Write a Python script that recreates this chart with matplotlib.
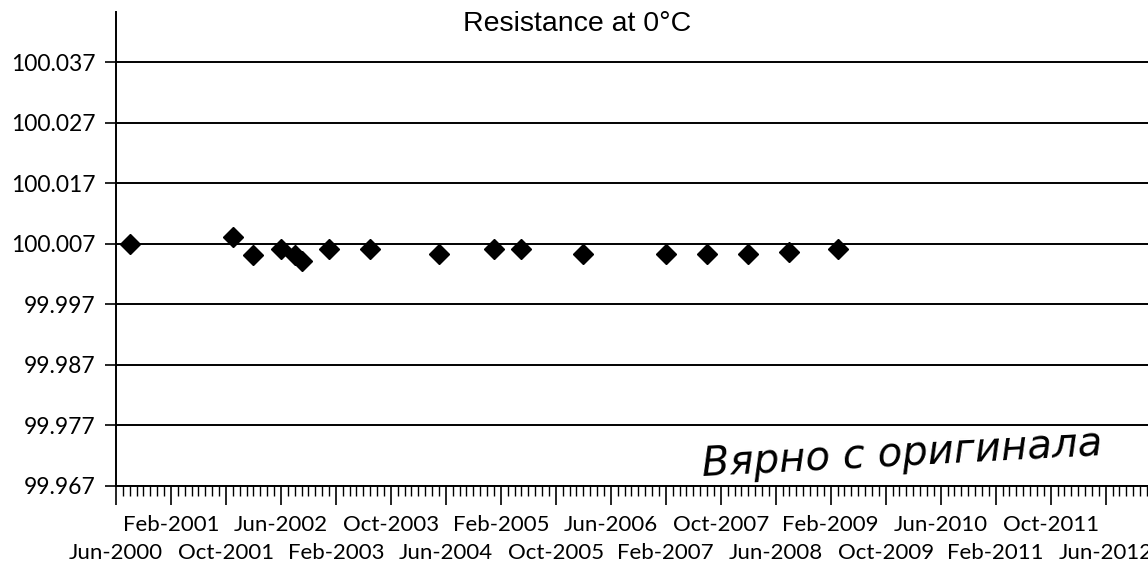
import matplotlib.pyplot as plt
from matplotlib.ticker import FixedLocator, MultipleLocator, NullFormatter

# measurement dates (year-month) and resistance values at 0 C
dates = ["2000-08", "2001-11", "2002-02", "2002-06", "2002-08", "2002-09",
         "2003-01", "2003-07", "2004-05", "2005-01", "2005-05", "2006-02",
         "2007-02", "2007-08", "2008-02", "2008-08", "2009-03"]
resistance = [100.0070, 100.0081, 100.0052, 100.0061, 100.0052, 100.0041,
              100.0061, 100.0061, 100.0053, 100.0061, 100.0061, 100.0053,
              100.0053, 100.0053, 100.0053, 100.0056, 100.0061]

y_ticks = [99.967, 99.977, 99.987, 99.997, 100.007, 100.017, 100.027, 100.037]
month_names = ["Jan", "Feb", "Mar", "Apr", "May", "Jun",
               "Jul", "Aug", "Sep", "Oct", "Nov", "Dec"]

start_year, start_month = 2000, 6


def month_index(s):
    y, m = s.split("-")
    return (int(y) - start_year) * 12 + int(m) - start_month


def month_label(k):
    total = start_month - 1 + k
    return "%s-%d" % (month_names[total % 12], start_year + total // 12)


x = [month_index(d) for d in dates]

plt.rcParams['font.family'] = ['Lato', 'DejaVu Sans']

fig = plt.figure(figsize=(11.48, 5.67), dpi=100)
ax = fig.add_axes([0.101, 0.1429, 0.910, 0.836])

for v in y_ticks:
    ax.axhline(v, color='black', lw=1.4, zorder=1)

ax.plot(x, resistance, linestyle='none', marker='D', markersize=10.5,
        color='black', zorder=3)

ax.set_xlim(0, 152)
ax.set_ylim(99.967, 100.0453)
ax.set_yticks(y_ticks)
ax.set_yticklabels(["%.3f" % v for v in y_ticks])

# date axis: major tick every 8 months, labels staggered on two rows
major = list(range(0, 152, 8))
ax.xaxis.set_major_locator(FixedLocator(major))
ax.xaxis.set_major_formatter(NullFormatter())
ax.xaxis.set_minor_locator(MultipleLocator(1))
for i, k in enumerate(major):
    row_y = -0.1414 if i % 2 == 0 else -0.0823
    ax.text(k, row_y, month_label(k), transform=ax.get_xaxis_transform(),
            ha='center', va='center', fontsize=16, clip_on=False)

ax.tick_params(axis='x', which='major', length=13.5, width=1.2)
ax.tick_params(axis='x', which='minor', length=7, width=1.0)
ax.tick_params(axis='y', which='major', length=8, width=1.2, labelsize=16.5, pad=7)

for s in ['top', 'right']:
    ax.spines[s].set_visible(False)
for s in ['left', 'bottom']:
    ax.spines[s].set_linewidth(1.4)

fig.text(0.503, 0.958, "Resistance at 0°C", ha='center', va='center',
         fontsize=20.5, family='Liberation Sans')

fig.text(0.786, 0.198, "Вярно с оригинала", ha='center', va='center',
         fontsize=29, style='italic', family='DejaVu Sans', rotation=3,
         fontweight='light')

fig.savefig("out.png", dpi=100)
